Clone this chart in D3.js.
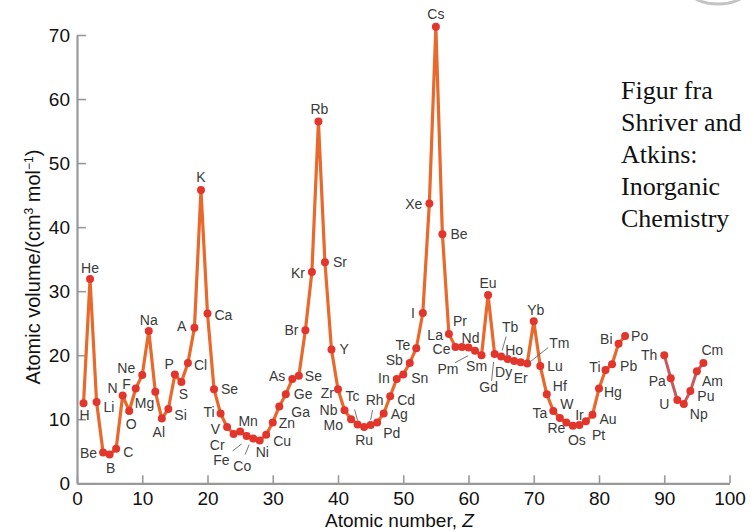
<!DOCTYPE html>
<html lang="en">
<head>
  <script src="https://d3js.org/d3.v7.min.js"></script>
  <style>
    body { margin: 0; background: #fff; }
    text { font-family: "Liberation Sans", Arial, sans-serif; }
  </style>
</head>
<body>
  <svg width="754" height="532"></svg>
  <script>
    // atomic number, label as printed in the figure, atomic volume (cm3/mol)
    var mainZ = [1,2,3,4,5,6,7,8,9,10,11,12,13,14,15,16,17,18,19,20,21,22,23,24,25,26,27,28,29,30,
      31,32,33,34,35,36,37,38,39,40,41,42,43,44,45,46,47,48,49,50,51,52,53,54,55,56,57,58,59,60,
      61,62,63,64,65,66,67,68,69,70,71,72,73,74,75,76,77,78,79,80,81,82,83,84];
    var mainLabels = ["H","He","Li","Be","B","C","N","O","F","Ne","Na","Mg","Al","Si","P","S","Cl","A","K","Ca",
      "Se","Ti","V","Cr","Mn","Fe","Co","Ni","Cu","Zn","Ga","Ge","As","Se","Br","Kr","Rb","Sr","Y","Zr",
      "Nb","Mo","Tc","Ru","Rh","Pd","Ag","Cd","In","Sn","Sb","Te","I","Xe","Cs","Be","La","Ce","Pr","Nd",
      "Pm","Sm","Eu","Gd","Tb","Dy","Ho","Er","Tm","Yb","Lu","Hf","Ta","W","Re","Os","Ir","Pt","Au","Hg",
      "Ti","Pb","Bi","Po"];
    var mainVol = [12.5,31.9,12.7,4.8,4.5,5.4,13.7,11.3,14.8,16.9,23.8,14.3,10.1,11.6,17.0,15.8,18.8,24.3,45.8,26.5,
      14.7,10.9,8.8,7.7,8.1,7.4,7.0,6.7,7.6,9.5,12.0,13.9,16.3,16.8,23.9,33.0,56.5,34.5,20.9,14.7,
      11.4,10.0,9.2,8.8,9.1,9.5,10.9,13.6,16.3,17.0,18.8,21.1,26.6,43.7,71.3,38.9,23.3,21.3,21.3,21.2,
      20.7,20.0,29.4,20.2,19.8,19.4,19.1,18.9,18.7,25.3,18.3,13.9,11.3,10.2,9.5,9.0,9.1,9.7,10.7,14.8,
      17.7,18.6,21.8,23.0];

    var actZ = [90,91,92,93,94,95,96];
    var actLabels = ["Th","Pa","U","Np","Pu","Am","Cm"];
    var actVol = [20.0,16.4,13.0,12.4,14.4,17.5,18.8];

    var xTicks = [0,10,20,30,40,50,60,70,80,90,100];
    var yTicks = [0,10,20,30,40,50,60,70];

    // label placement next to each point: [dx, dy, anchor]
    var mainLabelPos = [[1,17,"m"],[0,-6,"m"],[7,10,"s"],[-6,5,"e"],[1,19,"m"],[7,8,"s"],[-5,-3,"e"],[2,18,"m"],[-5,0,"e"],[-7,-2,"e"],
      [0,-6,"m"],[-1,16,"e"],[-3,18,"m"],[6,11,"s"],[-1,-5,"e"],[2,17,"m"],[6,7,"s"],[-8,3,"e"],[0,-8,"m"],[7,6,"s"],
      [7,5,"s"],[-6,4,"e"],[-7,7,"e"],[-9,16,"e"],[8,-5,"m"],[-17,29,"e"],[-2,33,"e"],[-4,17,"s"],[7,11,"s"],[6,6,"s"],
      [12,11,"s"],[8,5,"s"],[-7,2,"e"],[6,5,"s"],[-7,5,"e"],[-7,6,"e"],[1,-7,"m"],[8,5,"s"],[8,5,"s"],[-4,9,"e"],
      [-7,5,"e"],[-8,11,"e"],[-5,-23,"m"],[0,18,"m"],[4,-20,"m"],[6,16,"s"],[7,6,"s"],[7,9,"s"],[-7,4,"e"],[8,9,"s"],
      [-7,2,"e"],[-6,2,"e"],[-8,5,"e"],[-7,6,"e"],[0,-8,"m"],[8,5,"s"],[-6,6,"e"],[-5,7,"e"],[-2,-21,"m"],[2,-5,"m"],
      [-27,23,"m"],[-5,16,"m"],[0,-7,"m"],[-6,38,"m"],[9,-24,"m"],[-4,18,"m"],[0,-6,"m"],[0,21,"m"],[22,-16,"s"],[2,-6,"m"],
      [7,5,"s"],[6,-3,"s"],[-6,7,"e"],[7,-9,"m"],[-10,11,"m"],[4,19,"m"],[0,-5,"m"],[6,19,"s"],[7,9,"s"],[5,8,"s"],
      [-5,2,"e"],[8,7,"s"],[-6,0,"e"],[6,5,"s"]];
    var actLabelPos = [[-7,5,"e"],[-5,8,"e"],[-8,9,"e"],[6,15,"s"],[7,10,"s"],[5,15,"s"],[-2,-8,"s"]];

    // leader lines from a label to its point: [Z, x1, y1, x2, y2] offsets from the point
    var leaders = [[26,-14,15,-5,8],[27,-8,16,-4,6],[43,-3,-15,0,-4],[45,2,-15,0,-5],
      [61,-20,12,-7,5],[64,-3,27,-1,8],[65,5,-20,1,-6],[69,2,-1,21,-16]];

    var svg = d3.select("svg");
    var x = d3.scaleLinear().domain([0, 100]).range([77, 729.5]);
    var y = d3.scaleLinear().domain([0, 70]).range([483.3, 35]);
    var anchors = { m: "middle", s: "start", e: "end" };

    // faint logo remains at top right corner
    svg.append("ellipse").attr("cx", 718).attr("cy", -9).attr("rx", 28).attr("ry", 13)
      .attr("fill", "none").attr("stroke", "#c4c4c4").attr("stroke-width", 3);

    var yAxis = svg.append("g").attr("transform", "translate(77,0)")
      .call(d3.axisLeft(y).tickValues(yTicks).tickSize(-9).tickSizeOuter(0).tickPadding(7));
    var xAxis = svg.append("g").attr("transform", "translate(0,483.3)")
      .call(d3.axisBottom(x).tickValues(xTicks).tickSize(-8).tickSizeOuter(0).tickPadding(8));
    [xAxis, yAxis].forEach(function (g) {
      g.select(".domain").attr("stroke", "#999").attr("stroke-width", 2.2);
      g.selectAll(".tick line").attr("stroke", "#999").attr("stroke-width", 1.6);
      g.selectAll(".tick text").attr("fill", "#111").attr("font-size", 19)
        .attr("font-family", "Liberation Sans, Arial, sans-serif");
    });

    svg.append("text").attr("x", 325).attr("y", 527).attr("font-size", 19).attr("fill", "#111")
      .text("Atomic number, ").append("tspan").attr("font-style", "italic").text("Z");

    var yl = svg.append("text").attr("transform", "translate(40,267) rotate(-90)")
      .attr("text-anchor", "middle").attr("font-size", 20).attr("fill", "#111");
    yl.append("tspan").text("Atomic volume/(cm");
    yl.append("tspan").attr("dy", "-0.6em").attr("font-size", 12).text("3");
    yl.append("tspan").attr("dy", "0.36em").text(" mol");
    yl.append("tspan").attr("dy", "-0.6em").attr("font-size", 12).text("\u22121");
    yl.append("tspan").attr("dy", "0.36em").text(")");

    var line = d3.line().x(function (d) { return x(d[0]); }).y(function (d) { return y(d[1]); });
    var mainPts = mainZ.map(function (z, i) { return [z, mainVol[i], mainLabels[i], mainLabelPos[i]]; });
    var actPts = actZ.map(function (z, i) { return [z, actVol[i], actLabels[i], actLabelPos[i]]; });

    svg.append("path").datum(mainPts).attr("d", line).attr("fill", "none")
      .attr("stroke", "#e8692b").attr("stroke-width", 3.2).attr("stroke-linejoin", "round");
    svg.append("path").datum(actPts).attr("d", line).attr("fill", "none")
      .attr("stroke", "#c95a5c").attr("stroke-width", 3).attr("stroke-linejoin", "round");

    var allPts = mainPts.concat(actPts);
    svg.selectAll("circle.pt").data(allPts).enter().append("circle").attr("class", "pt")
      .attr("cx", function (d) { return x(d[0]); }).attr("cy", function (d) { return y(d[1]); })
      .attr("r", 4).attr("fill", "#e2352c");

    svg.selectAll("line.lead").data(leaders).enter().append("line").attr("class", "lead")
      .attr("x1", function (d) { return x(d[0]) + d[1]; })
      .attr("y1", function (d) { return y(mainVol[mainZ.indexOf(d[0])]) + d[2]; })
      .attr("x2", function (d) { return x(d[0]) + d[3]; })
      .attr("y2", function (d) { return y(mainVol[mainZ.indexOf(d[0])]) + d[4]; })
      .attr("stroke", "#666").attr("stroke-width", 0.9);

    svg.selectAll("text.el").data(allPts).enter().append("text").attr("class", "el")
      .attr("x", function (d) { return x(d[0]) + d[3][0]; })
      .attr("y", function (d) { return y(d[1]) + d[3][1]; })
      .attr("text-anchor", function (d) { return anchors[d[3][2]]; })
      .attr("font-size", 14).attr("fill", "#3a3a3a").text(function (d) { return d[2]; });

    var credit = ["Figur fra", "Shriver and", "Atkins:", "Inorganic", "Chemistry"];
    svg.selectAll("text.credit").data(credit).enter().append("text").attr("class", "credit")
      .attr("x", 621).attr("y", function (d, i) { return 99 + i * 32; })
      .style("font-family", "'Liberation Serif', 'Times New Roman', serif")
      .attr("font-size", 26).attr("fill", "#111").text(function (d) { return d; });
  </script>
</body>
</html>
